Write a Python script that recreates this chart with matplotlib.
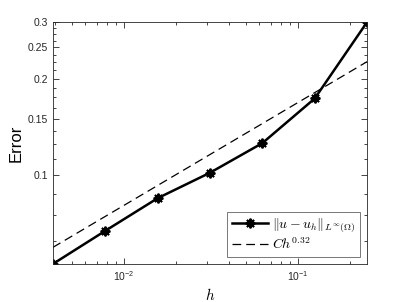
import numpy as np
import matplotlib
matplotlib.use("Agg")
import matplotlib.pyplot as plt
from matplotlib.ticker import FixedLocator, NullFormatter, LogLocator

plt.rcParams['mathtext.fontset'] = 'cm'
plt.rcParams['font.family'] = ['Liberation Sans', 'DejaVu Sans']

# grid sizes and measured errors
h = [1/256, 1/128, 1/64, 1/32, 1/16, 1/8, 1/4]
err = [0.053, 0.0672, 0.0849, 0.1019, 0.126, 0.1735, 0.30]

# reference rate line C h^0.32
C = 0.352
rate = 0.32
ref = [C * hh ** rate for hh in h]

ytick_vals = [0.1, 0.15, 0.2, 0.25, 0.3]
ytick_labels = ['0.1', '0.15', '0.2', '0.25', '0.3']

axcol = '#262626'

fig = plt.figure(figsize=(4.07, 3.02), dpi=100)
ax = fig.add_axes([0.130, 0.126, 0.772, 0.801])

ax.loglog(h, err, color='k', lw=1.8, marker=(8, 2, 0), ms=7, mew=1.4,
          label=r'$\|u-u_h\|_{L^\infty(\Omega)}$')
ax.loglog(h, ref, color='k', lw=0.9, ls=(0, (7, 4)), label=r'$Ch^{0.32}$')

ax.set_xlim(h[0], h[-1])
ax.set_ylim(err[0], err[-1])

ax.yaxis.set_major_locator(FixedLocator(ytick_vals))
ax.set_yticklabels(ytick_labels)
ax.yaxis.set_minor_locator(FixedLocator(np.arange(0.05, 0.3001, 0.0125)))
ax.yaxis.set_minor_formatter(NullFormatter())
ax.xaxis.set_major_locator(LogLocator(base=10))
ax.xaxis.set_minor_locator(LogLocator(base=10, subs=np.arange(2, 10)))
ax.xaxis.set_minor_formatter(NullFormatter())

ax.tick_params(which='both', direction='in', top=True, right=True,
               colors=axcol, labelsize=7.5, labelcolor=axcol)
ax.tick_params(which='major', length=4, width=0.6)
ax.tick_params(which='minor', length=2, width=0.6)
for s in ax.spines.values():
    s.set_color(axcol)
    s.set_linewidth(0.6)

ax.set_xlabel(r'$h$', fontsize=11, labelpad=3)
ax.set_ylabel('Error', fontsize=12, labelpad=3)

leg = ax.legend(loc='lower right', fontsize=10, frameon=True, fancybox=False,
                edgecolor='#555555', handlelength=2.6, handletextpad=0.3,
                borderpad=0.35, labelspacing=0.15, borderaxespad=0.5)
leg.get_frame().set_linewidth(0.7)

fig.savefig('out.png', dpi=100)
